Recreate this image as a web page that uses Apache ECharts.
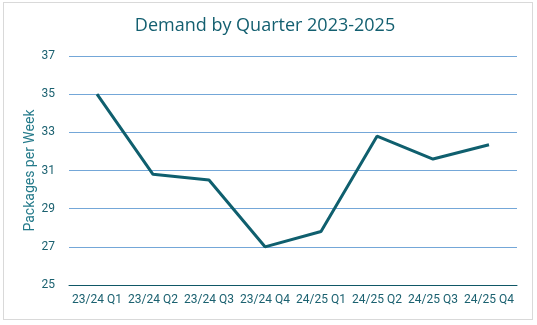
<!DOCTYPE html>
<html>
<head>
<meta charset="utf-8">
<script src="https://cdn.jsdelivr.net/npm/echarts@6/dist/echarts.min.js"></script>
<style>
  html, body { margin: 0; padding: 0; background: #fff; }
  #frame { position: absolute; left: 3px; top: 2px; width: 530px; height: 318px; border: 1px solid #d9d9d9; box-sizing: border-box; }
  #chart { position: absolute; left: 0; top: 0; width: 537px; height: 325px; }
</style>
</head>
<body>
<div id="frame"></div>
<div id="chart"></div>
<script>
// quarters and weekly demand
const quarters = ['23/24 Q1', '23/24 Q2', '23/24 Q3', '23/24 Q4', '24/25 Q1', '24/25 Q2', '24/25 Q3', '24/25 Q4'];
const packages = [35.0, 30.8, 30.5, 27.0, 27.8, 32.8, 31.6, 32.35];

const teal = '#0f5f6e';
const textColor = '#1b6170';

const chart = echarts.init(document.getElementById('chart'));
chart.setOption({
  animation: false,
  title: {
    text: 'Demand by Quarter 2023-2025',
    left: 260,
    textAlign: 'center',
    top: 12,
    textStyle: { color: '#135f70', fontSize: 18, fontWeight: 'normal', fontFamily: 'Open Sans' }
  },
  grid: { left: 69, right: 20, top: 56, bottom: 40 },
  xAxis: {
    type: 'category',
    data: quarters,
    boundaryGap: true,
    axisLine: { lineStyle: { color: '#0f5766', width: 1 } },
    axisTick: { show: false },
    axisLabel: { color: textColor, fontSize: 12, fontFamily: 'Roboto', margin: 9, interval: 0 }
  },
  yAxis: {
    type: 'value',
    min: 25,
    max: 37,
    interval: 2,
    name: 'Packages per Week',
    nameLocation: 'middle',
    nameGap: 32,
    nameMoveOverlap: false,
    nameTextStyle: { color: '#247a8a', fontSize: 14, fontFamily: 'Roboto' },
    axisLine: { show: false },
    axisTick: { show: false },
    axisLabel: { color: textColor, fontSize: 12, fontFamily: 'Roboto', margin: 14 },
    splitLine: { lineStyle: { color: '#74a7d8', width: 1 } }
  },
  series: [{
    type: 'line',
    data: packages,
    symbol: 'none',
    lineStyle: { color: teal, width: 3 },
    itemStyle: { color: teal }
  }]
});
</script>
</body>
</html>
